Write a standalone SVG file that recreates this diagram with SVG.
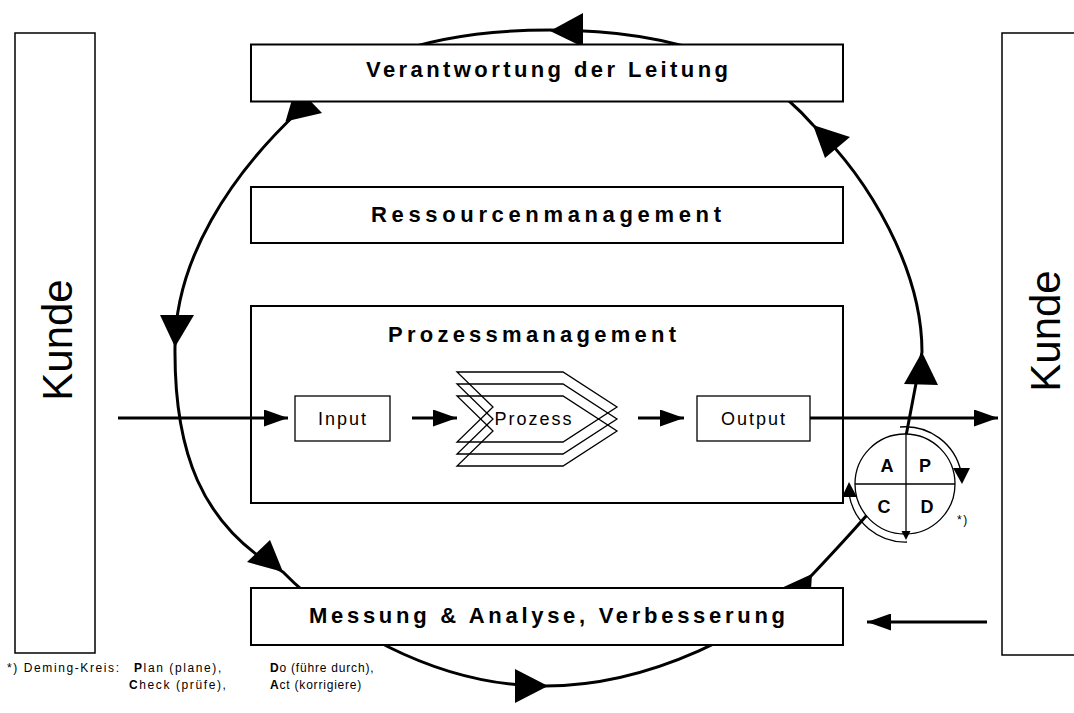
<svg xmlns="http://www.w3.org/2000/svg" width="1074" height="713" viewBox="0 0 1074 713">
  <style>
    .loop{fill:none;stroke:#000;stroke-width:3}
    .flow{fill:none;stroke:#000;stroke-width:3}
    .head{fill:#000}
    .box{fill:#fff;stroke:#000;stroke-width:2}
    .frame{fill:none;stroke:#000;stroke-width:2}
    .io{fill:#fff;stroke:#000;stroke-width:1.3}
    .thin{fill:none;stroke:#000;stroke-width:1.3}
    .title{font-family:"Liberation Sans",Arial,sans-serif;font-weight:bold;font-size:22px;text-anchor:middle}
    .label{font-family:"Liberation Sans",Arial,sans-serif;font-size:18px;letter-spacing:2px;text-anchor:middle}
    .kunde{font-family:"Liberation Sans",Arial,sans-serif;font-size:42px;text-anchor:middle}
    .pdca{font-family:"Liberation Sans",Arial,sans-serif;font-weight:bold;font-size:18px;text-anchor:middle}
    .note{font-family:"Liberation Sans",Arial,sans-serif;font-size:12px;letter-spacing:1.6px}
    .note2{font-family:"Liberation Sans",Arial,sans-serif;font-size:12px;letter-spacing:0.8px}
    .b{font-weight:bold}
  </style>
  <defs>
    <marker id="tip" viewBox="0 0 24 17" refX="24" refY="8.5" markerWidth="24" markerHeight="17" markerUnits="userSpaceOnUse" orient="auto">
      <path d="M0,0 L24,8.5 L0,17 Z" fill="#000"/>
    </marker>
  </defs>

  <!-- connectors: the improvement loop and the material flow -->
  <g id="connectors">
    <path class="loop" d="M906,436 L922,352 C922,270 870,180 813,125 C765,70 690,30 550,30 C430,30 350,60 300,110 C230,175 175,260 175,347 C174,450 200,525 283,572 C330,620 430,686 545,686 C650,686 760,630 812,575 Q845,540 867,515"/>
    <polygon class="head" points="550,31 583,13 583,47"/>
    <polygon class="head" points="813,125 825,158 850,137"/>
    <polygon class="head" points="922,352 904,384 938,385"/>
    <polygon class="head" points="175,347 160,315 194,315"/>
    <polygon class="head" points="283,572 247,562 270,540"/>
    <polygon class="head" points="548,686 515,669 515,703"/>
    <polygon class="head" points="777,590 812,574 810,606"/>
    <polygon class="head" points="296,86 285.5,121.5 322,113"/>

    <line class="flow" x1="118" y1="418" x2="288" y2="418" marker-end="url(#tip)"/>
    <line class="flow" x1="412" y1="418" x2="457" y2="418" marker-end="url(#tip)"/>
    <line class="flow" x1="638" y1="418" x2="684" y2="418" marker-end="url(#tip)"/>
    <line class="flow" x1="810" y1="418" x2="998" y2="418" marker-end="url(#tip)"/>
    <line class="flow" x1="987" y1="622" x2="867" y2="622" marker-end="url(#tip)"/>
  </g>

  <!-- customer on both sides -->
  <g id="kunde-links">
    <rect class="frame" x="15" y="33" width="80" height="620" style="stroke-width:1.5"/>
    <text class="kunde" transform="translate(72,340) rotate(-90)">Kunde</text>
  </g>
  <g id="kunde-rechts">
    <rect class="frame" x="1002" y="33" width="100" height="622" style="stroke-width:1.5"/>
    <text class="kunde" transform="translate(1060,331) rotate(-90)">Kunde</text>
  </g>

  <g id="verantwortung">
    <rect class="box" x="251" y="44.5" width="592" height="57"/>
    <text class="title" x="547" y="77" textLength="362" lengthAdjust="spacing">Verantwortung der Leitung</text>
  </g>
  <g id="ressourcen">
    <rect class="box" x="251" y="187" width="592" height="56"/>
    <text class="title" x="546" y="222" textLength="350" lengthAdjust="spacing">Ressourcenmanagement</text>
  </g>
  <g id="prozessmanagement">
    <rect class="frame" x="251" y="306" width="592" height="197"/>
    <text class="title" x="532" y="342" textLength="288" lengthAdjust="spacing">Prozessmanagement</text>
  </g>
  <g id="messung">
    <rect class="box" x="251" y="588" width="592" height="57"/>
    <text class="title" x="547" y="623" textLength="476" lengthAdjust="spacing">Messung &amp; Analyse, Verbesserung</text>
  </g>

  <g id="input">
    <rect class="io" x="295" y="396" width="95" height="45"/>
    <text class="label" x="343" y="425">Input</text>
  </g>
  <g id="prozess">
    <path class="thin" d="M457,372 L563,372 L617,407 L563,442 L457,442 L493,407 Z"/>
    <path class="thin" d="M457,384 L563,384 L617,419 L563,454 L457,454 L493,419 Z"/>
    <path class="thin" d="M457,396 L563,396 L617,431 L563,466 L457,466 L493,431 Z"/>
    <text class="label" x="534" y="425">Prozess</text>
  </g>
  <g id="output">
    <rect class="io" x="697" y="396" width="113" height="45"/>
    <text class="label" x="754" y="425">Output</text>
  </g>

  <!-- Deming circle -->
  <g id="pdca">
    <circle class="io" cx="905" cy="484" r="50"/>
    <line class="thin" x1="855" y1="484" x2="955" y2="484"/>
    <line class="thin" x1="906" y1="434" x2="906" y2="532"/>
    <polygon class="head" points="901.5,531 910.5,531 906,540"/>
    <path class="thin" d="M900,427 A57,57 0 0 1 961,472"/>
    <polygon class="head" points="953,468 970,468 962,484"/>
    <path class="thin" d="M907,542 A57,57 0 0 1 849,494"/>
    <polygon class="head" points="842,497 857,497 849,482"/>
    <text class="pdca" x="887" y="472">A</text>
    <text class="pdca" x="925" y="472">P</text>
    <text class="pdca" x="884" y="513">C</text>
    <text class="pdca" x="927" y="513">D</text>
    <text class="note" x="957" y="524">*)</text>
  </g>

  <!-- footnote -->
  <g id="legende">
    <text class="note" x="7" y="672">*) Deming-Kreis:</text>
    <text class="note" x="134" y="672"><tspan class="b">P</tspan>lan (plane),</text>
    <text class="note2" x="270" y="672"><tspan class="b">D</tspan>o (führe durch),</text>
    <text class="note" x="129" y="689"><tspan class="b">C</tspan>heck (prüfe),</text>
    <text class="note2" x="270" y="689"><tspan class="b">A</tspan>ct (korrigiere)</text>
  </g>
</svg>
